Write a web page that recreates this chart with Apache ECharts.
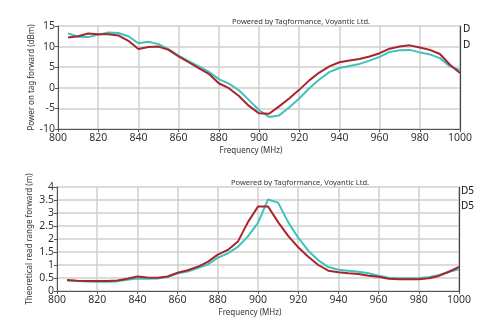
<!DOCTYPE html>
<html><head><meta charset="utf-8">
<script src="https://cdn.jsdelivr.net/npm/echarts@6/dist/echarts.min.js"></script>
<style>html,body{margin:0;padding:0;background:#fff}#c{width:493px;height:335px}</style>
</head><body><div id="c"></div>
<script>
const freqs = [805,810,815,820,825,830,835,840,845,850,855,860,865,870,875,880,885,890,895,900,905,910,915,920,925,930,935,940,945,950,955,960,965,970,975,980,985,990,995,1000];
const powerRed = [12.2,12.5,13.2,13.0,13.0,12.7,11.4,9.4,9.9,10.0,9.2,7.6,6.2,4.8,3.4,1.1,-0.1,-2.0,-4.4,-6.2,-6.3,-4.5,-2.6,-0.5,1.8,3.7,5.2,6.2,6.6,7.0,7.6,8.4,9.5,10.0,10.3,9.8,9.2,8.2,5.6,3.6];
const powerCyan = [13.2,12.4,12.3,12.9,13.4,13.3,12.5,10.8,11.2,10.6,9.4,7.8,6.5,5.2,3.9,2.1,1.0,-0.6,-3.0,-5.4,-7.1,-6.7,-4.8,-2.6,-0.1,2.0,3.8,4.8,5.3,5.8,6.6,7.5,8.7,9.1,9.2,8.6,8.1,7.2,5.2,4.3];
const rangeRed = [0.42,0.39,0.38,0.38,0.38,0.40,0.47,0.56,0.52,0.51,0.56,0.70,0.80,0.93,1.12,1.40,1.58,1.90,2.65,3.25,3.25,2.65,2.12,1.68,1.32,1.00,0.78,0.72,0.68,0.65,0.59,0.55,0.47,0.45,0.45,0.45,0.49,0.58,0.74,0.93];
const rangeCyan = [0.40,0.38,0.37,0.36,0.36,0.37,0.43,0.48,0.47,0.48,0.54,0.68,0.75,0.88,1.02,1.28,1.45,1.70,2.10,2.62,3.52,3.40,2.65,2.05,1.55,1.18,0.92,0.82,0.78,0.74,0.68,0.59,0.51,0.49,0.49,0.50,0.53,0.62,0.74,0.84];
const xTitle = 'Frequency (MHz)';
const yTitleTop = 'Power on tag forward (dBm)';
const yTitleBottom = 'Theoretical read range forward (m)';
const credit = 'Powered by Tagformance, Voyantic Ltd.';
const legendTop = ['D','D'];
const legendBottom = ['D5','D5'];

const RED = '#a8252e', CYAN = '#3ec3bb';
const pairs = (ys) => freqs.map((f,i)=>[f, ys[i]]);
const font = 'Noto Sans';
const txt = '#333';

function xAx(gi){
  return {
    type:'value', gridIndex:gi, min:800, max:1000, interval:20,
    name:xTitle, nameLocation:'middle', nameGap:18, nameMoveOverlap:false,
    nameTextStyle:{fontSize:8, color:txt, fontFamily:font, padding:[0,16,0,0]},
    axisLine:{show:true, onZero:false, lineStyle:{color:'#555', width:1}},
    axisTick:{show:true, length:3, lineStyle:{color:'#555'}},
    axisLabel:{fontSize:10.5, color:txt, fontFamily:font, margin:4, formatter:(v)=>String(v)},
    splitLine:{show:true, lineStyle:{color:'#cfcfcf', width:1.5}}
  };
}
function yAx(gi, min, max, interval, name, gap){
  return {
    type:'value', gridIndex:gi, min, max, interval,
    name, nameLocation:'middle', nameGap:gap, nameMoveOverlap:false,
    nameTextStyle:{fontSize:8, color:txt, fontFamily:font},
    axisLine:{show:true, lineStyle:{color:'#555', width:1}},
    axisTick:{show:true, length:3, lineStyle:{color:'#555'}},
    axisLabel:{fontSize:10.5, color:txt, fontFamily:font, margin:3},
    splitLine:{show:true, lineStyle:{color:'#cfcfcf', width:1.5}}
  };
}
function yRight(gi, min, max){
  return {type:'value', gridIndex:gi, position:'right', min, max,
    axisLine:{show:true, lineStyle:{color:'#444', width:1.2}},
    axisTick:{show:false}, axisLabel:{show:false}, splitLine:{show:false}};
}
function ser(xi, yi, data, color){
  return {type:'line', xAxisIndex:xi, yAxisIndex:yi, data, symbol:'none',
    lineStyle:{color, width:2}, itemStyle:{color}, animation:false, z:3};
}
const chart = echarts.init(document.getElementById('c'), null, {renderer:'canvas'});
chart.setOption({
  animation:false,
  grid:[
    {left:58, right:33, top:26, height:103},
    {left:57, right:34, top:187, height:104}
  ],
  xAxis:[xAx(0), xAx(1)],
  yAxis:[
    yAx(0, -10, 15, 5, yTitleTop, 22),
    yAx(1, 0, 4, 0.5, yTitleBottom, 23),
    yRight(0, -10, 15),
    yRight(1, 0, 4)
  ],
  series:[
    ser(0, 0, pairs(powerCyan), CYAN),
    ser(0, 0, pairs(powerRed), RED),
    ser(1, 1, pairs(rangeCyan), CYAN),
    ser(1, 1, pairs(rangeRed), RED)
  ],
  graphic:[
    {type:'text', left:232, top:18, style:{text:credit, fontSize:7.5, fill:txt, fontFamily:font}},
    {type:'text', left:231, top:179, style:{text:credit, fontSize:7.5, fill:txt, fontFamily:font}},
    {type:'text', left:463, top:24, style:{text:legendTop[0], fontSize:10, fill:'#111', fontFamily:font}},
    {type:'text', left:463, top:40, style:{text:legendTop[1], fontSize:10, fill:'#111', fontFamily:font}},
    {type:'text', left:461, top:186, style:{text:legendBottom[0], fontSize:10, fill:'#111', fontFamily:font}},
    {type:'text', left:461, top:201, style:{text:legendBottom[1], fontSize:10, fill:'#111', fontFamily:font}}
  ]
});
</script></body></html>
